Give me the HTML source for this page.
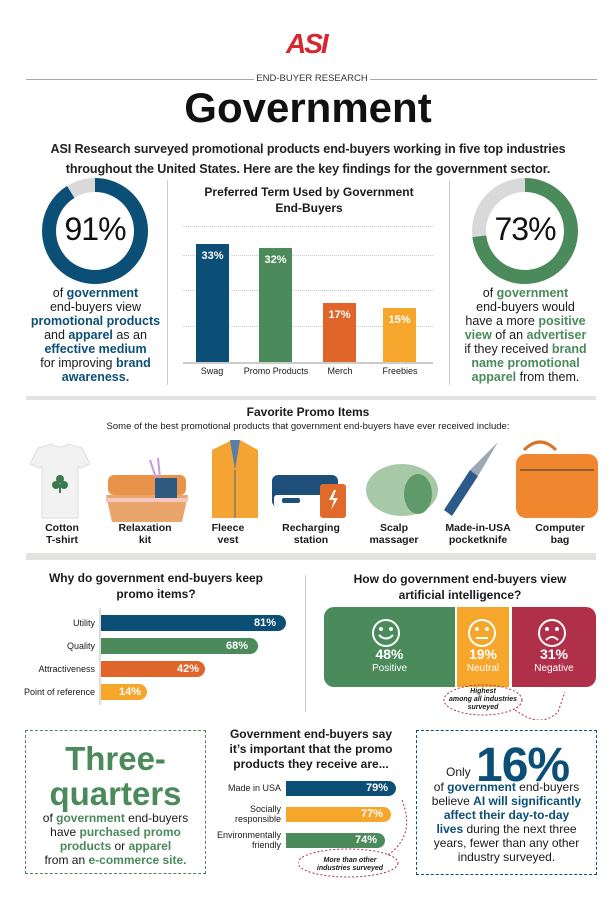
<!DOCTYPE html>
<html><head><meta charset="utf-8">
<style>
*{margin:0;padding:0;box-sizing:border-box}
body{width:616px;height:900px;background:#fff;font-family:"Liberation Sans",sans-serif;color:#1a1a1a;position:relative;overflow:hidden}
.a{position:absolute}
.c{text-align:center}
.b{font-weight:bold}
.bl{color:#0b4f76;font-weight:bold}
.gr{color:#4a8a5b;font-weight:bold}
.cap{font-size:12.5px;line-height:14px}
.bar{position:absolute;color:#fff;font-weight:bold;font-size:11px}
.hl{position:absolute;left:26px;width:570px;background:#e3e3e1}
.lbl{position:absolute;font-size:9px;text-align:right}
.it{position:absolute;width:80px;text-align:center;font-size:10.5px;font-weight:bold;line-height:12px;top:522px}
</style></head><body>

<!-- logo -->
<div class="a b" style="left:286px;top:28px;font-size:28px;color:#d8262f;font-style:italic;letter-spacing:-2px">ASI</div>
<div class="a" style="left:26px;top:79px;width:228px;height:1px;background:#aaa"></div>
<div class="a" style="left:370px;top:79px;width:227px;height:1px;background:#aaa"></div>
<div class="a c" style="left:254px;top:73px;width:116px;font-size:9.5px;color:#333">END-BUYER RESEARCH</div>
<div class="a c b" style="left:0;top:84px;width:616px;font-size:42px;color:#111">Government</div>
<div class="a c b" style="left:0;top:139px;width:616px;font-size:12.6px;line-height:20px;color:#222;letter-spacing:-0.1px">ASI Research surveyed promotional products end-buyers working in five top industries<br>throughout the United States. Here are the key findings for the government sector.</div>

<!-- left donut -->
<svg class="a" style="left:40px;top:176px" width="110" height="110">
<circle cx="55" cy="55" r="46" fill="none" stroke="#d9d9d9" stroke-width="14"/>
<circle cx="55" cy="55" r="46" fill="none" stroke="#0b4f76" stroke-width="14" stroke-dasharray="263 289" transform="rotate(-90 55 55)"/>
</svg>
<div class="a c" style="left:40px;top:211px;width:110px;font-size:32px;color:#111;letter-spacing:-1px">91%</div>
<div class="a c cap" style="left:18px;top:286px;width:155px">of <span class="bl">government</span><br>end-buyers view<br><span class="bl">promotional products</span><br>and <span class="bl">apparel</span> as an<br><span class="bl">effective medium</span><br>for improving <span class="bl">brand<br>awareness.</span></div>

<div class="a" style="left:167px;top:180px;width:1px;height:205px;background:#ccc"></div>
<div class="a" style="left:449px;top:180px;width:1px;height:205px;background:#ccc"></div>

<!-- bar chart -->
<div class="a c b" style="left:170px;top:184px;width:278px;font-size:12px;line-height:16px">Preferred Term Used by Government<br>End-Buyers</div>
<div class="a" style="left:183px;top:226px;width:250px;border-top:1px dotted #ccc"></div>
<div class="a" style="left:183px;top:255px;width:250px;border-top:1px dotted #ccc"></div>
<div class="a" style="left:183px;top:290px;width:250px;border-top:1px dotted #ccc"></div>
<div class="a" style="left:183px;top:326px;width:250px;border-top:1px dotted #ccc"></div>
<div class="bar c" style="left:196px;top:244px;width:33px;height:119px;background:#0b4f76;padding-top:6px">33%</div>
<div class="bar c" style="left:259px;top:248px;width:33px;height:115px;background:#4a8a5b;padding-top:6px">32%</div>
<div class="bar c" style="left:323px;top:303px;width:33px;height:60px;background:#e0652a;padding-top:6px">17%</div>
<div class="bar c" style="left:383px;top:308px;width:33px;height:55px;background:#f6a62b;padding-top:6px">15%</div>
<div class="a" style="left:183px;top:362px;width:250px;height:2px;background:#ccc"></div>
<div class="lbl c" style="left:192px;top:366px;width:40px;text-align:center">Swag</div>
<div class="lbl c" style="left:240px;top:366px;width:72px;text-align:center">Promo Products</div>
<div class="lbl" style="left:320px;top:366px;width:40px;text-align:center">Merch</div>
<div class="lbl" style="left:380px;top:366px;width:40px;text-align:center">Freebies</div>

<!-- right donut -->
<svg class="a" style="left:470px;top:176px" width="110" height="110">
<circle cx="55" cy="55" r="46" fill="none" stroke="#d9d9d9" stroke-width="14"/>
<circle cx="55" cy="55" r="46" fill="none" stroke="#4a8a5b" stroke-width="14" stroke-dasharray="211 289" transform="rotate(-90 55 55)"/>
</svg>
<div class="a c" style="left:470px;top:211px;width:110px;font-size:32px;color:#111;letter-spacing:-1px">73%</div>
<div class="a c cap" style="left:448px;top:286px;width:155px">of <span class="gr">government</span><br>end-buyers would<br>have a more <span class="gr">positive<br>view</span> of an <span class="gr">advertiser</span><br>if they received <span class="gr">brand<br>name promotional<br>apparel</span> from them.</div>

<!-- favorites -->
<div class="hl" style="top:396px;height:4px"></div>
<div class="a c b" style="left:0;top:405px;width:616px;font-size:12px">Favorite Promo Items</div>
<div class="a c" style="left:0;top:421px;width:616px;font-size:9.5px">Some of the best promotional products that government end-buyers have ever received include:</div>
<svg class="a" style="left:0;top:440px" width="616" height="82">
<path d="M38 8 L52 4 Q60 10 68 4 L82 8 L90 24 L80 28 L78 26 L78 78 L42 78 L42 26 L40 28 L30 24 Z" fill="#f2f2f2" stroke="#ddd"/>
<circle cx="56" cy="45" r="4" fill="#3a7a4e"/><circle cx="64" cy="45" r="4" fill="#3a7a4e"/><circle cx="60" cy="39" r="4" fill="#3a7a4e"/><rect x="59" y="45" width="2" height="8" fill="#3a7a4e"/>
<rect x="108" y="35" width="78" height="20" rx="6" fill="#e9934a"/>
<path d="M106 55 L188 55 L182 82 L112 82 Z" fill="#e9a56a"/><rect x="106" y="58" width="82" height="4" fill="#f3c9c2"/>
<rect x="155" y="38" width="22" height="20" fill="#2e5a80"/><path d="M150 20 l6 18 M158 18 l2 20" stroke="#c9d" stroke-width="2"/>
<path d="M212 10 L232 0 L236 10 L240 0 L258 10 L258 78 L212 78 Z" fill="#f4a432"/><path d="M230 0 L235 30 L240 0" fill="#5a7fa6"/><line x1="235" y1="30" x2="235" y2="78" stroke="#4a6a8a"/>
<rect x="272" y="35" width="66" height="32" rx="6" fill="#1e4f7a"/><rect x="274" y="55" width="50" height="12" rx="3" fill="#fff"/><rect x="282" y="58" width="18" height="5" rx="2" fill="#1e4f7a"/>
<rect x="320" y="44" width="26" height="34" rx="3" fill="#e06a2a"/><path d="M334 50 l-5 10 h5 l-3 10 7-12 h-5 l3-8z" fill="#fff"/>
<ellipse cx="402" cy="50" rx="36" ry="26" fill="#a8c9a8"/><ellipse cx="418" cy="54" rx="14" ry="20" fill="#5e9a6a"/>
<path d="M444 70 L470 30 L478 36 L452 76 Z" fill="#2e5a8a"/><path d="M470 30 L498 2 L478 36 Z" fill="#9aa9b4"/>
<path d="M524 10 Q540 -6 556 10" fill="none" stroke="#d9752a" stroke-width="3"/><rect x="516" y="14" width="82" height="64" rx="10" fill="#f0872e"/><line x1="520" y1="30" x2="594" y2="30" stroke="#333"/>
</svg>
<div class="it" style="left:22px">Cotton<br>T-shirt</div>
<div class="it" style="left:105px">Relaxation<br>kit</div>
<div class="it" style="left:188px">Fleece<br>vest</div>
<div class="it" style="left:271px">Recharging<br>station</div>
<div class="it" style="left:354px">Scalp<br>massager</div>
<div class="it" style="left:438px">Made-in-USA<br>pocketknife</div>
<div class="it" style="left:520px">Computer<br>bag</div>
<div class="hl" style="top:553px;height:7px"></div>

<!-- why keep -->
<div class="a c b" style="left:20px;top:570px;width:272px;font-size:12px;line-height:16px">Why do government end-buyers keep<br>promo items?</div>
<div class="a" style="left:99px;top:608px;width:2px;height:97px;background:#ddd"></div>
<div class="lbl" style="left:0;top:618px;width:95px">Utility</div>
<div class="lbl" style="left:0;top:641px;width:95px">Quality</div>
<div class="lbl" style="left:0;top:664px;width:95px">Attractiveness</div>
<div class="lbl" style="left:0;top:687px;width:95px">Point of reference</div>
<div class="bar" style="left:101px;top:615px;width:185px;height:16px;background:#0b4f76;border-radius:0 9px 9px 0;text-align:right;padding-right:10px;line-height:16px">81%</div>
<div class="bar" style="left:101px;top:638px;width:157px;height:16px;background:#4a8a5b;border-radius:0 9px 9px 0;text-align:right;padding-right:10px;line-height:16px">68%</div>
<div class="bar" style="left:101px;top:661px;width:104px;height:16px;background:#e0652a;border-radius:0 9px 9px 0;text-align:right;padding-right:6px;line-height:16px">42%</div>
<div class="bar" style="left:101px;top:684px;width:46px;height:16px;background:#f6a62b;border-radius:0 9px 9px 0;text-align:right;padding-right:6px;line-height:16px">14%</div>
<div class="a" style="left:305px;top:575px;width:1px;height:137px;background:#ccc"></div>

<!-- AI -->
<div class="a c b" style="left:320px;top:571px;width:280px;font-size:12px;line-height:16px">How do government end-buyers view<br>artificial intelligence?</div>
<div class="a" style="left:324px;top:607px;width:131px;height:80px;background:#4a8a5b;border-radius:10px 0 0 10px"></div>
<div class="a" style="left:457px;top:607px;width:52px;height:80px;background:#f6a62b"></div>
<div class="a" style="left:512px;top:607px;width:84px;height:80px;background:#b0304a;border-radius:0 10px 10px 0"></div>
<svg class="a" style="left:324px;top:607px" width="272" height="80" fill="none" stroke="#fff" stroke-width="2">
<circle cx="62" cy="26" r="13"/><path d="M55 28 q7 7 14 0"/><circle cx="57" cy="22" r="1" fill="#fff"/><circle cx="67" cy="22" r="1" fill="#fff"/>
<circle cx="158" cy="26" r="13"/><path d="M152 31 h12"/><circle cx="153" cy="22" r="1" fill="#fff"/><circle cx="163" cy="22" r="1" fill="#fff"/>
<circle cx="228" cy="26" r="13"/><path d="M222 33 q6 -6 12 0"/><circle cx="223" cy="22" r="1" fill="#fff"/><circle cx="233" cy="22" r="1" fill="#fff"/>
</svg>
<div class="a c" style="left:324px;top:648px;width:131px;color:#fff;font-size:10px;line-height:12px"><b style="font-size:14px">48%</b><br>Positive</div>
<div class="a c" style="left:457px;top:648px;width:52px;color:#fff;font-size:10px;line-height:12px"><b style="font-size:14px">19%</b><br>Neutral</div>
<div class="a c" style="left:512px;top:648px;width:84px;color:#fff;font-size:10px;line-height:12px"><b style="font-size:14px">31%</b><br>Negative</div>
<svg class="a" style="left:440px;top:684px" width="140" height="36" fill="none" stroke="#b0304a" stroke-dasharray="2 2">
<ellipse cx="43" cy="16" rx="39" ry="15"/><path d="M75 26 Q100 45 118 28 L125 8"/></svg>
<div class="a c b" style="left:444px;top:688px;width:78px;font-size:7px;font-style:italic;line-height:8px">Highest<br>among all industries<br>surveyed</div>

<!-- three quarters -->
<div class="a" style="left:25px;top:730px;width:181px;height:144px;border:1px dashed #4a8a5b"></div>
<div class="a c b" style="left:25px;top:741px;width:181px;font-size:33px;line-height:35px;color:#4a8a5b">Three-<br>quarters</div>
<div class="a c" style="left:25px;top:811px;width:181px;font-size:12px;line-height:14px">of <span class="gr">government</span> end-buyers<br>have <span class="gr">purchased promo<br>products</span> or <span class="gr">apparel</span><br>from an <span class="gr">e-commerce site.</span></div>

<!-- middle -->
<div class="a c b" style="left:216px;top:727px;width:190px;font-size:12px;line-height:15px">Government end-buyers say<br>it’s important that the promo<br>products they receive are...</div>
<div class="lbl" style="left:200px;top:783px;width:81px">Made in USA</div>
<div class="lbl" style="left:200px;top:804px;width:81px;line-height:10px">Socially<br>responsible</div>
<div class="lbl" style="left:200px;top:830px;width:81px;line-height:10px">Environmentally<br>friendly</div>
<div class="bar" style="left:286px;top:781px;width:110px;height:15px;background:#0b4f76;border-radius:0 8px 8px 0;text-align:right;padding-right:8px;line-height:15px">79%</div>
<div class="bar" style="left:286px;top:807px;width:105px;height:15px;background:#f6a62b;border-radius:0 8px 8px 0;text-align:right;padding-right:8px;line-height:15px">77%</div>
<div class="bar" style="left:286px;top:833px;width:99px;height:15px;background:#4a8a5b;border-radius:0 8px 8px 0;text-align:right;padding-right:8px;line-height:15px">74%</div>
<svg class="a" style="left:298px;top:795px" width="110" height="84" fill="none" stroke="#b0304a" stroke-dasharray="2 2">
<ellipse cx="50" cy="68" rx="50" ry="14"/><path d="M90 60 Q118 40 104 5"/></svg>
<div class="a c b" style="left:305px;top:857px;width:90px;font-size:7px;font-style:italic;line-height:8px">More than other<br>industries surveyed</div>

<!-- 16% -->
<div class="a" style="left:416px;top:730px;width:181px;height:145px;border:1px dashed #0b4f76"></div>
<div class="a b" style="left:476px;top:738px;font-size:48px;color:#0b4f76;letter-spacing:-1px">16%</div>
<div class="a" style="left:446px;top:765px;font-size:12px">Only</div>
<div class="a c" style="left:416px;top:780px;width:181px;font-size:12px;line-height:14px">of <span class="bl">government</span> end-buyers<br>believe <span class="bl">AI will significantly<br>affect their day-to-day<br>lives</span> during the next three<br>years, fewer than any other<br>industry surveyed.</div>
</body></html>
